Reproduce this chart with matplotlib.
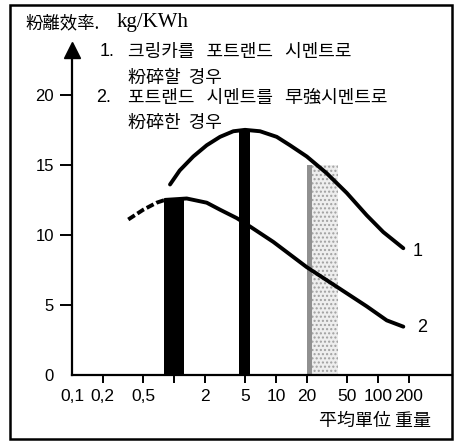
import matplotlib
matplotlib.use('Agg')
import matplotlib.pyplot as plt
from matplotlib.patches import Rectangle

plt.rcParams['font.family'] = ['Noto Sans CJK KR', 'DejaVu Sans']

# curve 1: clinker -> portland cement
c1_x = [0.914, 1.137, 1.546, 2.092, 2.825, 3.814, 4.97, 6.97, 10.16, 13.7, 20.0, 31.4, 49.3, 77.5, 112.7, 177]
c1_y = [13.6, 14.6, 15.6, 16.4, 17.0, 17.4, 17.5, 17.4, 17.0, 16.4, 15.6, 14.4, 13.0, 11.4, 10.2, 9.05]

# curve 2: portland -> high early strength cement (dashed part = extrapolated)
c2_dash_x = [0.356, 0.50, 0.676, 0.817]
c2_dash_y = [11.1, 11.8, 12.3, 12.5]
c2_x = [0.817, 1.332, 2.092, 2.825, 4.12, 5.56, 9.41, 20.0, 39.4, 77.5, 121.7, 177]
c2_y = [12.5, 12.6, 12.3, 11.8, 11.2, 10.6, 9.5, 7.7, 6.3, 4.9, 3.9, 3.45]

# vertical bands (x from, x to, height)
black_bands = [(0.80, 1.25, 12.5), (4.33, 5.56, 17.5)]
grey_band = (20.0, 40.5, 15.0)

xticks = [0.1, 0.2, 0.5, 1, 2, 5, 10, 20, 50, 100, 200]
xtick_labels = ['0,1', '0,2', '0,5', '', '2', '5', '10', '20', '50', '100', '200']
yticks = [0, 5, 10, 15, 20]

W, H = 455, 442


def fx(px):
    return px / W


def fy(py):
    return 1 - py / H


fig = plt.figure(figsize=(4.55, 4.42), dpi=100)
fig.patches.append(Rectangle((fx(10), fy(439)), fx(452) - fx(10), fy(5) - fy(439),
                             transform=fig.transFigure, fill=False, lw=1.8, color='black'))

ax = fig.add_axes([fx(72), fy(375), fx(452) - fx(72), fy(50) - fy(375)])
ax.set_xscale('log')
ax.set_xlim(0.1, 531)
ax.set_ylim(0, 23.2)

for x0, x1, h in black_bands:
    ax.fill_between([x0, x1], 0, h, color='black', lw=0)
ax.fill_between([grey_band[0], grey_band[1]], 0, grey_band[2], facecolor='#eeeeee',
                edgecolor='#a0a0a0', hatch='....', lw=0)
ax.fill_between([grey_band[0], grey_band[0] * 1.12], 0, grey_band[2], color='#909090', lw=0)

ax.plot(c1_x, c1_y, color='black', lw=2.8, solid_capstyle='round', solid_joinstyle='round')
ax.plot(c2_x, c2_y, color='black', lw=2.8, solid_capstyle='round', solid_joinstyle='round')
ax.plot(c2_dash_x, c2_dash_y, color='black', lw=2.8, ls=(0, (2.0, 0.8)))

for s in ['top', 'right']:
    ax.spines[s].set_visible(False)
ax.spines['left'].set_linewidth(1.6)
ax.spines['bottom'].set_linewidth(1.6)
ax.plot(0, 1, marker='^', markersize=11, color='black', transform=ax.transAxes, clip_on=False)

ax.set_xticks(xticks)
ax.set_xticklabels(xtick_labels, family='Liberation Sans', fontsize=12.5)
ax.minorticks_off()
ax.set_yticks(yticks)
ax.set_yticklabels([str(v) for v in yticks], family='Liberation Sans', fontsize=12)
ax.tick_params(axis='x', direction='out', length=6, width=1.4, pad=4)
ax.tick_params(axis='y', direction='out', length=9, width=1.4, pad=4)
ax.xaxis.get_major_ticks()[0].tick1line.set_visible(False)
ax.yaxis.get_major_ticks()[0].tick1line.set_visible(False)

fig.text(fx(25), fy(23), '粉離效率.', fontsize=12.5, va='center', ha='left')
fig.text(fx(117), fy(22), 'kg/KWh', fontsize=15, va='center', ha='left', family='Liberation Serif')

fig.text(fx(100), fy(52), '1.', fontsize=13, va='center', family='Liberation Sans')
fig.text(fx(128), fy(52), '크링카를   포트랜드   시멘트로', fontsize=13, va='center')
fig.text(fx(128), fy(78), '粉碎할  경우', fontsize=13, va='center')
fig.text(fx(96), fy(98), '2.', fontsize=13, va='center', family='Liberation Sans')
fig.text(fx(128), fy(98), '포트랜드   시멘트를   早強시멘트로', fontsize=13, va='center')
fig.text(fx(128), fy(123), '粉碎한  경우', fontsize=13, va='center')

fig.text(fx(418), fy(251), '1', fontsize=13, va='center', ha='center', family='Liberation Sans')
fig.text(fx(422), fy(328), '2', fontsize=13, va='center', ha='center', family='Liberation Sans')

fig.text(fx(431), fy(421), '平均單位 重量', fontsize=13, va='center', ha='right')

fig.savefig('out.png', dpi=100)
